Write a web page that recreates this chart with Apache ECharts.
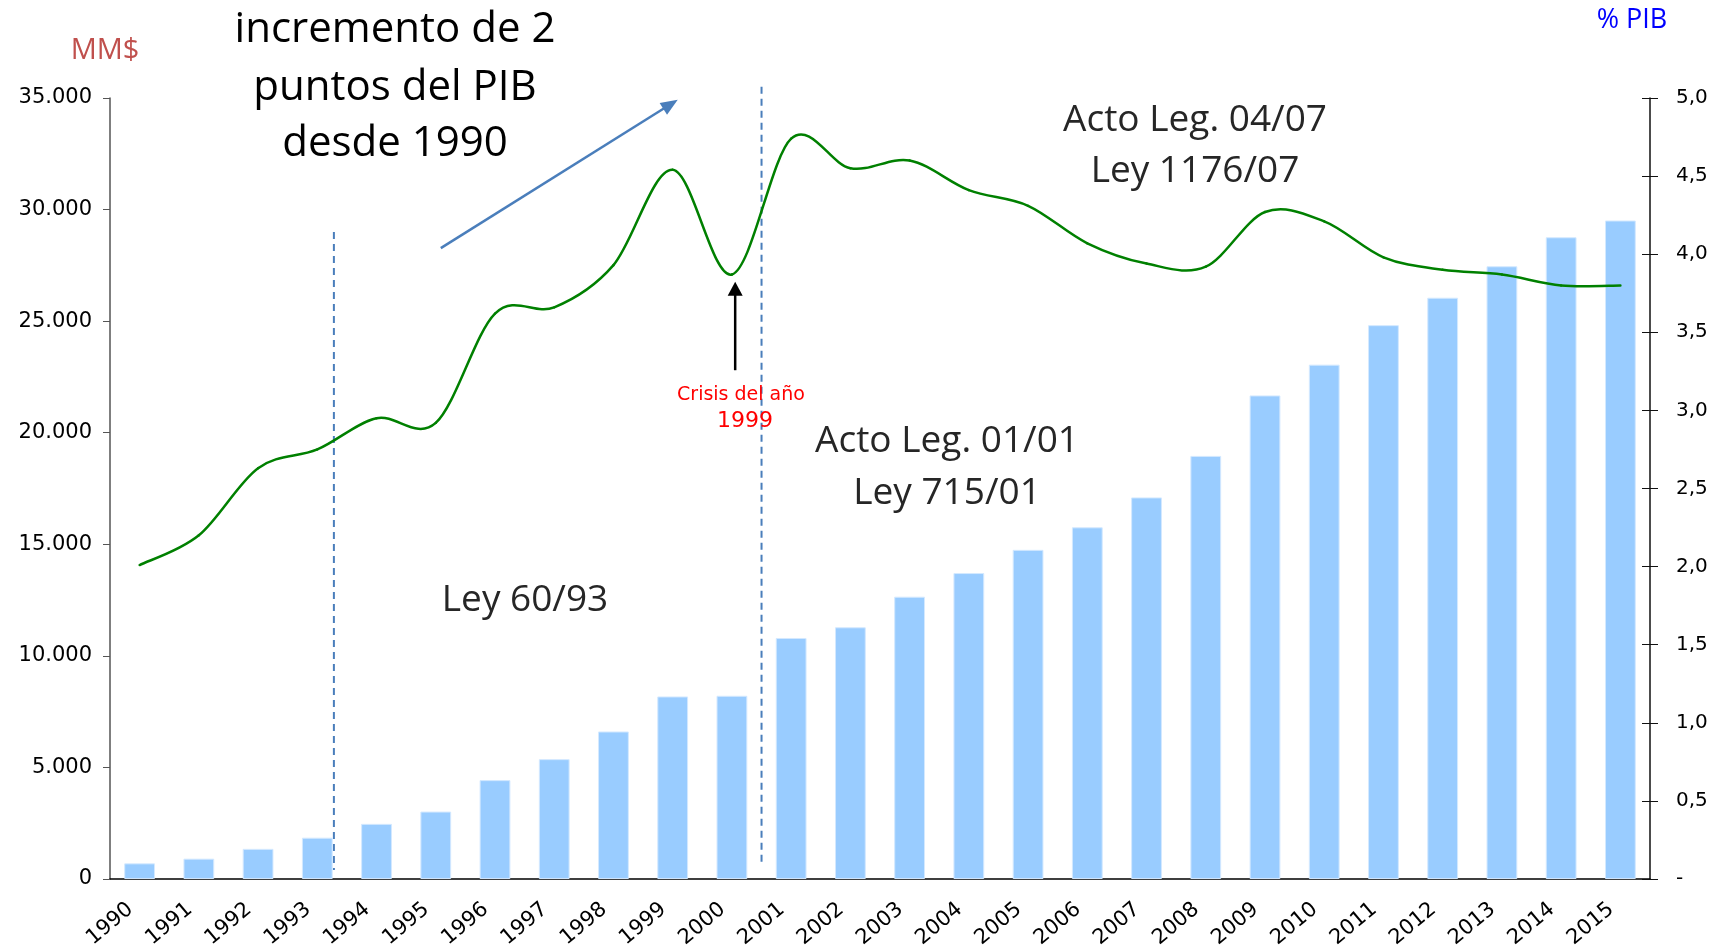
<!DOCTYPE html>
<html>
<head>
<meta charset="utf-8">
<title>Gasto y % PIB</title>
<script src="https://cdn.jsdelivr.net/npm/echarts@6/dist/echarts.min.js"></script>
<style>
  html, body { margin: 0; padding: 0; background: #fff; }
  #main { width: 1729px; height: 951px; }
</style>
</head>
<body>
<div id="main"></div>
<script>
// datos
var years = ['1990','1991','1992','1993','1994','1995','1996','1997','1998','1999','2000','2001','2002',
             '2003','2004','2005','2006','2007','2008','2009','2010','2011','2012','2013','2014','2015'];
// MM$ (eje izquierdo)
var gasto = [700, 910, 1350, 1850, 2470, 3020, 4430, 5370, 6610, 8180, 8210, 10800, 11280,
             12650, 13710, 14750, 15760, 17100, 18960, 21670, 23050, 24820, 26050, 27460, 28760, 29510];
// % PIB (eje derecho)
var pib = [2.01, 2.20, 2.63, 2.75, 2.95, 2.92, 3.62, 3.66, 3.93, 4.54, 3.87, 4.74, 4.55,
           4.60, 4.41, 4.31, 4.07, 3.94, 3.92, 4.27, 4.21, 3.98, 3.90, 3.87, 3.80, 3.80];
// ejes
var leftMin = 0, leftMax = 35000, leftStep = 5000;
var rightMin = 0, rightMax = 5, rightStep = 0.5;

var chart = echarts.init(document.getElementById('main'));

function miles(v) {
  return String(v).replace(/\B(?=(\d{3})+(?!\d))/g, '.');
}
function coma(v) {
  return v === 0 ? '-' : v.toFixed(1).replace('.', ',');
}

// linea suavizada tipo Excel (Catmull-Rom), un tramo por punto
function curvaPib(params, api) {
  var i = params.dataIndexInside;
  var n = params.dataInsideLength;
  if (i >= n - 1) return;
  function pt(j) {
    j = Math.max(0, Math.min(n - 1, j));
    return api.coord([api.value(0, j), api.value(1, j)]);
  }
  var p0 = pt(i - 1), p1 = pt(i), p2 = pt(i + 1), p3 = pt(i + 2);
  return {
    type: 'bezierCurve',
    shape: {
      x1: p1[0], y1: p1[1], x2: p2[0], y2: p2[1],
      cpx1: p1[0] + (p2[0] - p0[0]) / 6, cpy1: p1[1] + (p2[1] - p0[1]) / 6,
      cpx2: p2[0] - (p3[0] - p1[0]) / 6, cpy2: p2[1] - (p3[1] - p1[1]) / 6
    },
    style: { stroke: '#008000', lineWidth: 2.5, fill: 'none', lineCap: 'round' }
  };
}

var axisFont = 'DejaVu Sans';

chart.setOption({
  animation: false,
  grid: { left: 110, right: 79, top: 98, bottom: 70 },
  xAxis: {
    type: 'category',
    data: years,
    axisLine: { lineStyle: { color: '#000', width: 1.5 } },
    axisTick: { length: 6, lineStyle: { color: '#000' } },
    axisLabel: { interval: 0, rotate: 40, margin: 20, padding: [0, 12, 0, 0],
                 color: '#000', fontFamily: axisFont, fontSize: 21 }
  },
  yAxis: [
    {
      type: 'value', min: leftMin, max: leftMax, interval: leftStep,
      axisLine: { show: true, lineStyle: { color: '#555', width: 1.5 } },
      axisTick: { show: true, length: 7, lineStyle: { color: '#555' } },
      splitLine: { show: false },
      axisLabel: { margin: 18, formatter: miles, color: '#000', fontFamily: axisFont, fontSize: 21 }
    },
    {
      type: 'value', position: 'right', min: rightMin, max: rightMax, interval: rightStep,
      axisLine: { show: true, lineStyle: { color: '#111', width: 1.5 } },
      axisTick: { show: true, length: 8, lineStyle: { color: '#111' } },
      splitLine: { show: false },
      axisLabel: { margin: 26, formatter: coma, color: '#000', fontFamily: axisFont, fontSize: 20 }
    },
    { // marcas cruzadas del eje derecho
      type: 'value', position: 'right', min: rightMin, max: rightMax, interval: rightStep,
      axisLine: { show: false },
      axisTick: { show: true, inside: true, length: 8, lineStyle: { color: '#111' } },
      axisLabel: { show: false },
      splitLine: { show: false }
    }
  ],
  series: [
    {
      name: 'MM$',
      type: 'bar',
      data: gasto,
      barWidth: '52%',
      itemStyle: { color: '#99ccff', borderColor: '#d4e9ff', borderWidth: 1 }
    },
    {
      name: '% PIB',
      type: 'custom',
      yAxisIndex: 1,
      data: pib.map(function (v, i) { return [i, v]; }),
      renderItem: curvaPib,
      silent: true,
      z: 3
    }
  ]
});

// posiciones a partir de los ejes
var x0 = chart.convertToPixel({ xAxisIndex: 0 }, 0);
var step = chart.convertToPixel({ xAxisIndex: 0 }, 1) - x0;
function px(ci, v) {
  return [x0 + step * ci, chart.convertToPixel({ yAxisIndex: 0 }, v)];
}

function arrow(p0, p1, color, w, headLen, headW) {
  var dx = p1[0] - p0[0], dy = p1[1] - p0[1];
  var L = Math.sqrt(dx * dx + dy * dy), ux = dx / L, uy = dy / L;
  var bx = p1[0] - ux * headLen, by = p1[1] - uy * headLen;
  return [
    { type: 'line', shape: { x1: p0[0], y1: p0[1], x2: bx + ux, y2: by + uy }, style: { stroke: color, lineWidth: w } },
    { type: 'polygon', shape: { points: [[p1[0], p1[1]], [bx - uy * headW / 2, by + ux * headW / 2], [bx + uy * headW / 2, by - ux * headW / 2]] },
      style: { fill: color } }
  ];
}

function dashed(ci, v0, v1) {
  var a = px(ci, v0), b = px(ci, v1);
  return { type: 'line', shape: { x1: a[0], y1: a[1], x2: b[0], y2: b[1] },
           style: { stroke: '#4a7ebb', lineWidth: 2, lineDash: [7, 5] } };
}

function label(text, x, y, size, color, family) {
  return { type: 'text', style: { text: text, x: x, y: y, fontSize: size, fontFamily: family || 'Open Sans',
           fill: color, align: 'center', verticalAlign: 'middle' }, z: 10 };
}

var elems = [];
elems.push(dashed(3.28, 29000, 400));
elems.push(dashed(10.5, 35500, 730));
elems = elems.concat(arrow(px(5.085, 28270), px(9.085, 34920), '#4a7ebb', 2.5, 17, 14));
elems = elems.concat(arrow(px(10.055, 22800), px(10.055, 26770), '#000', 2.5, 14, 15));

elems.push(label('MM$', 105, 51, 29, '#c0504d'));
elems.push(label('% PIB', 1632, 20, 27, '#0000ff'));
elems.push(label('incremento de 2', 395, 30, 42, '#000'));
elems.push(label('puntos del PIB', 395, 88, 42, '#000'));
elems.push(label('desde 1990', 395, 144, 42, '#000'));
elems.push(label('Acto Leg. 04/07', 1195, 120, 37, '#262626'));
elems.push(label('Ley 1176/07', 1195, 171, 37, '#262626'));
elems.push(label('Acto Leg. 01/01', 947, 441, 37, '#262626'));
elems.push(label('Ley 715/01', 947, 493, 37, '#262626'));
elems.push(label('Ley 60/93', 525, 600, 37, '#262626'));
elems.push(label('Crisis del año', 741, 395, 19, '#ff0000', 'DejaVu Sans'));
elems.push(label('1999', 745, 421, 22, '#ff0000', 'DejaVu Sans'));

chart.setOption({ graphic: elems });
</script>
</body>
</html>
